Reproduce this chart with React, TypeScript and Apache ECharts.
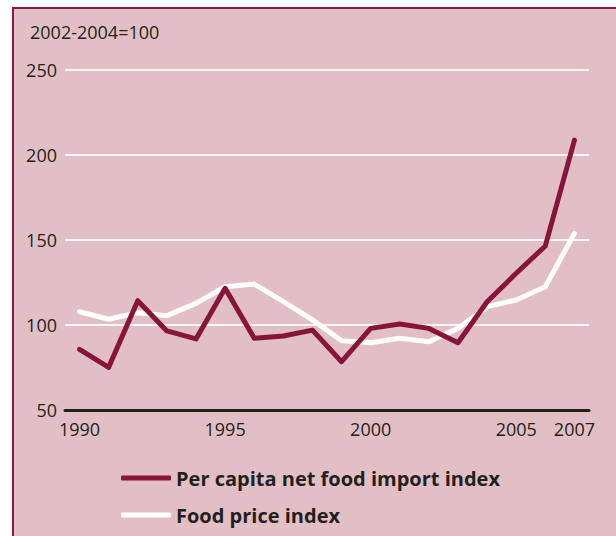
import React, { useEffect, useRef } from "react";
import * as echarts from "echarts";

const years = ["1990","1991","1992","1993","1994","1995","1996","1997","1998","1999","2000","2001","2002","2003","2004","2005","2006","2007"];
const importIndex = [85.7, 75.1, 114.3, 96.5, 91.8, 121.6, 92.2, 93.5, 97.0, 78.4, 98.0, 100.6, 98.0, 89.6, 113.7, 130.4, 146.5, 208.8];
const priceIndex = [107.8, 103.4, 107.2, 105.5, 112.7, 122.5, 124.1, 113.7, 103.0, 90.8, 89.6, 92.2, 90.2, 98.0, 110.8, 114.7, 122.5, 153.9];
const shownYears = ["1990", "1995", "2000", "2005", "2007"];
const seriesNames = ["Per capita net food import index", "Food price index"];
const unitLabel = "2002-2004=100";

const FONT = "'Open Sans', 'Noto Sans', sans-serif";
const TEXT = "#231f20";
const DARK = "#87143a";
const PINK = "#e2bfc4";
const BORDER = "#8b1a3e";

export default function App() {
  const ref = useRef<HTMLDivElement>(null);
  useEffect(() => {
    if (!ref.current) return;
    const chart = echarts.init(ref.current, undefined, { renderer: "svg" });
    chart.setOption({
      animation: false,
      backgroundColor: "#ffffff",
      textStyle: { fontFamily: FONT },
      graphic: [
        { type: "rect", z: -10, shape: { x: 12, y: 7, width: 610, height: 535 }, style: { fill: PINK } },
        { type: "line", z: -9, shape: { x1: 13, y1: 7, x2: 13, y2: 540 }, style: { stroke: BORDER, lineWidth: 2 } },
        { type: "line", z: -9, shape: { x1: 12, y1: 8, x2: 620, y2: 8 }, style: { stroke: BORDER, lineWidth: 2 } },
      ],
      title: {
        text: unitLabel,
        left: 30,
        top: 23,
        padding: 0,
        textStyle: { fontFamily: FONT, fontSize: 18, fontWeight: "normal", color: TEXT, lineHeight: 18 },
      },
      grid: { left: 65, right: 27, top: 70, bottom: 126 },
      xAxis: {
        type: "category",
        data: years,
        boundaryGap: true,
        axisLine: { show: true, lineStyle: { color: TEXT, width: 3 } },
        axisTick: { show: false },
        splitLine: { show: false },
        axisLabel: {
          interval: (_i: number, v: string) => shownYears.includes(v),
          color: TEXT,
          fontFamily: FONT,
          fontSize: 18,
          margin: 10,
        },
      },
      yAxis: {
        type: "value",
        min: 50,
        max: 250,
        interval: 50,
        axisLine: { show: false },
        axisTick: { show: false },
        axisLabel: { color: TEXT, fontFamily: FONT, fontSize: 18, margin: 8 },
        splitLine: { show: true, lineStyle: { color: "#fbf6f7", width: 2 } },
      },
      legend: {
        data: seriesNames,
        orient: "vertical",
        left: 121,
        top: 467,
        padding: 0,
        icon: "roundRect",
        itemWidth: 50,
        itemHeight: 5,
        itemGap: 15,
        textStyle: { fontFamily: FONT, fontSize: 20, fontWeight: "bold", color: TEXT, lineHeight: 22 },
      },
      series: [
        {
          name: seriesNames[1],
          type: "line",
          data: priceIndex,
          symbol: "none",
          lineStyle: { color: "#ffffff", width: 5, join: "round", cap: "round" },
          itemStyle: { color: "#ffffff" },
          z: 2,
        },
        {
          name: seriesNames[0],
          type: "line",
          data: importIndex,
          symbol: "none",
          lineStyle: { color: DARK, width: 5, join: "round", cap: "round" },
          itemStyle: { color: DARK },
          z: 3,
        },
      ],
    });
    return () => chart.dispose();
  }, []);
  return <div ref={ref} style={{ position: "absolute", left: 0, top: 0, width: 616, height: 536 }} />;
}
